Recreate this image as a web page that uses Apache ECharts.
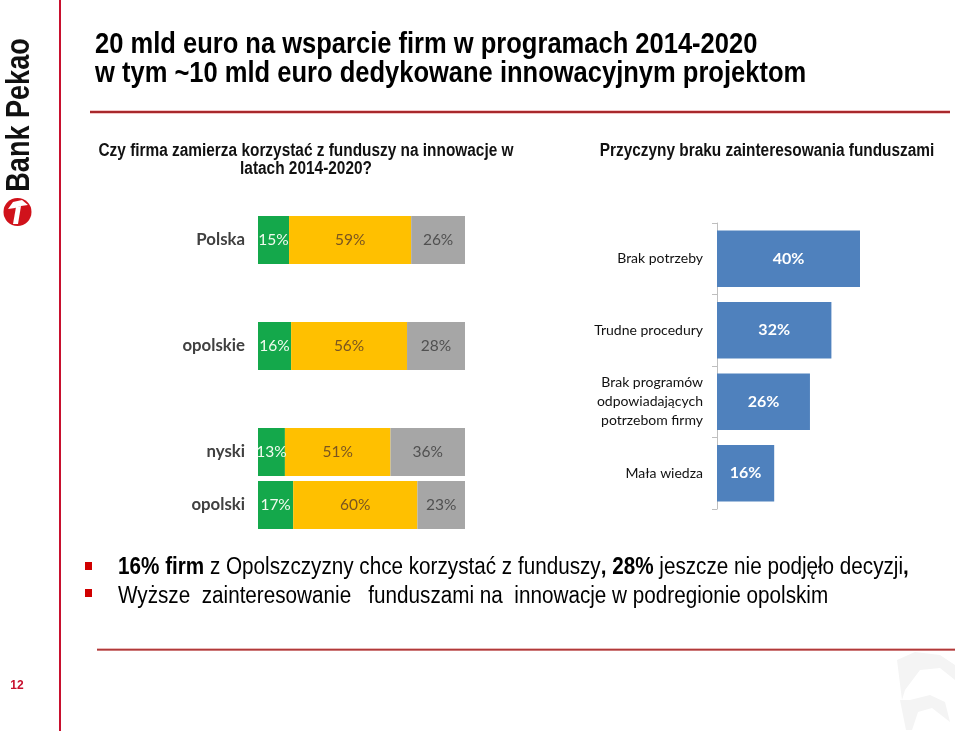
<!DOCTYPE html>
<html>
<head>
<meta charset="utf-8">
<script src="https://cdn.jsdelivr.net/npm/echarts@6/dist/echarts.min.js"></script>
<style>
html,body{margin:0;padding:0;background:#fff;}
#c{width:960px;height:734px;}
</style>
</head>
<body>
<div id="c"></div>
<script>
// Left chart: "Czy firma zamierza korzystać z funduszy na innowacje w latach 2014-2020?"
const regionCategories = ['Polska', '', 'opolskie', '', 'nyski', 'opolski'];
const takValues      = [15, null, 16, null, 13, 17];
const nieValues      = [59, null, 56, null, 51, 60];
const nieWiemValues  = [26, null, 28, null, 36, 23];

// Right chart: "Przyczyny braku zainteresowania funduszami"
const reasonCategories = ['Brak potrzeby', 'Trudne procedury', 'Brak programów\nodpowiadających\npotrzebom firmy', 'Mała wiedza'];
const reasonValues = [40, 32, 26, 16];

const titleLines = ['20 mld euro na wsparcie firm w programach 2014-2020', 'w tym ~10 mld euro dedykowane innowacyjnym projektom'];

const chart = echarts.init(document.getElementById('c'), null, {renderer: 'canvas'});
const calibri = 'Lato, "Open Sans", sans-serif';
const arial = '"Liberation Sans", Arial, sans-serif';

function seg(name, data, color, labelColor) {
  return {
    name, type: 'bar', stack: 'a', xAxisIndex: 0, yAxisIndex: 0,
    data, barCategoryGap: '9%',
    itemStyle: {color},
    label: {show: true, position: 'inside', formatter: p => p.value + '%', color: labelColor, fontFamily: calibri, fontSize: 15.5},
    silent: true
  };
}

chart.setOption({
  animation: false,
  grid: [
    {left: 258, top: 213.5, width: 207, height: 318},
    {left: 717, top: 223, width: 143, height: 286}
  ],
  xAxis: [
    {gridIndex: 0, type: 'value', min: 0, max: 100, show: false},
    {gridIndex: 1, type: 'value', min: 0, max: 40, show: false}
  ],
  yAxis: [
    {gridIndex: 0, type: 'category', inverse: true, data: regionCategories,
     axisLine: {show: false}, axisTick: {show: false},
     axisLabel: {color: '#404040', fontWeight: 'bold', fontSize: 16.8, fontFamily: calibri, margin: 13}},
    {gridIndex: 1, type: 'category', inverse: true, data: reasonCategories,
     axisLine: {show: true, lineStyle: {color: '#bfbfbf'}},
     axisTick: {show: true, length: 5, lineStyle: {color: '#bfbfbf'}},
     axisLabel: {color: '#111', fontSize: 14, fontFamily: calibri, margin: 14, lineHeight: 19}}
  ],
  series: [
    seg('Tak', takValues, '#14a84b', '#f2fbef'),
    seg('Nie', nieValues, '#ffc000', '#7a5520'),
    seg('Nie wiem', nieWiemValues, '#a6a6a6', '#505050'),
    {
      name: 'Przyczyny', type: 'bar', xAxisIndex: 1, yAxisIndex: 1,
      data: reasonValues, barCategoryGap: '21%',
      itemStyle: {color: '#4f81bd'},
      label: {show: true, position: 'inside', formatter: p => p.value + '%', color: '#fff', fontWeight: 'bold', fontSize: 16, fontFamily: calibri},
      silent: true
    }
  ],
  graphic: [
    {type: 'rect', shape: {x: 59, y: 0, width: 2, height: 731}, style: {fill: '#c8102e'}},
    {type: 'text', x: 20, y: 115, rotation: Math.PI / 2, scaleX: 0.82,
     style: {text: 'Bank Pekao', fontFamily: arial, fontWeight: 'bold', fontSize: 33, fill: '#111', align: 'center', verticalAlign: 'middle'}},
    {type: 'circle', shape: {cx: 17.5, cy: 212, r: 14}, style: {fill: '#d0121b'}},
    {type: 'polygon', shape: {points: [[8, 209], [13, 202], [22, 200], [28, 205], [21, 206], [15, 208]]}, style: {fill: '#fff'}},
    {type: 'polygon', shape: {points: [[16, 207], [21, 206], [18, 224], [13, 224]]}, style: {fill: '#fff'}},
    {type: 'text', x: 95, y: 45, scaleX: 0.88, style: {text: titleLines[0], fontFamily: arial, fontWeight: 'bold', fontSize: 29, fill: '#000', verticalAlign: 'middle'}},
    {type: 'text', x: 95, y: 74, scaleX: 0.88, style: {text: titleLines[1], fontFamily: arial, fontWeight: 'bold', fontSize: 29, fill: '#000', verticalAlign: 'middle'}},
    {type: 'rect', shape: {x: 90, y: 110, width: 860, height: 4}, style: {fill: '#f3c6c6'}},
    {type: 'rect', shape: {x: 90, y: 111, width: 860, height: 2}, style: {fill: '#a8282c'}},
    {type: 'text', x: 306, y: 142, scaleX: 0.88, style: {text: 'Czy firma zamierza korzystać z funduszy na innowacje w\nlatach 2014-2020?', fontFamily: arial, fontWeight: 'bold', fontSize: 17.5, lineHeight: 18, fill: '#111', align: 'center', verticalAlign: 'top'}},
    {type: 'text', x: 767, y: 151.5, scaleX: 0.88, style: {text: 'Przyczyny braku zainteresowania funduszami', fontFamily: arial, fontWeight: 'bold', fontSize: 17.5, fill: '#111', align: 'center', verticalAlign: 'middle'}},
    {type: 'rect', shape: {x: 85, y: 562, width: 7, height: 8}, style: {fill: '#d00000'}},
    {type: 'rect', shape: {x: 85, y: 589, width: 7, height: 8}, style: {fill: '#d00000'}},
    {type: 'text', x: 118, y: 568, scaleX: 0.88, style: {
      text: '{b|16% firm} z Opolszczyzny chce korzystać z funduszy{b|, 28%} jeszcze nie podjęło decyzji{b|,}',
      fontFamily: arial, fontSize: 23.5, fill: '#000', verticalAlign: 'middle',
      rich: {b: {fontWeight: 'bold', fontFamily: arial, fontSize: 23.5}}
    }},
    {type: 'text', x: 118, y: 597, scaleX: 0.88, style: {
      text: 'Wyższe  zainteresowanie   funduszami na  innowacje w podregionie opolskim',
      fontFamily: arial, fontSize: 23.5, fill: '#000', verticalAlign: 'middle'
    }},
    {type: 'rect', shape: {x: 97, y: 648, width: 858, height: 3}, style: {fill: '#e9b8b8'}},
    {type: 'rect', shape: {x: 97, y: 649, width: 858, height: 1.5}, style: {fill: '#b03a3a'}},
    {type: 'text', x: 17, y: 686, style: {text: '12', fontFamily: arial, fontWeight: 'bold', fontSize: 12, fill: '#c8102e', align: 'center', verticalAlign: 'middle'}},
    {type: 'polygon', shape: {points: [[897, 660], [915, 652], [940, 655], [955, 665], [955, 680], [940, 668], [920, 670], [905, 690], [902, 700]]}, style: {fill: '#f4f4f4'}},
    {type: 'polygon', shape: {points: [[900, 700], [906, 730], [912, 730], [918, 712], [932, 708], [950, 722], [945, 702], [930, 695], [910, 700]]}, style: {fill: '#f4f4f4'}}
  ]
});
</script>
</body>
</html>
